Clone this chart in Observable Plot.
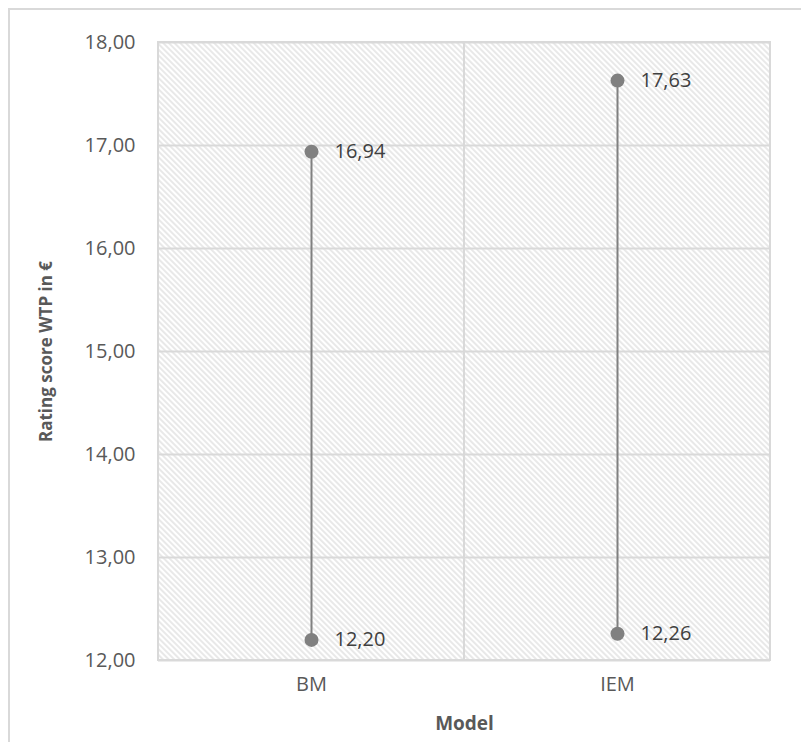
<!DOCTYPE html>
<html>
<head>
<meta charset="utf-8">
<script src="https://cdn.jsdelivr.net/npm/d3@7"></script>
<script src="https://cdn.jsdelivr.net/npm/@observablehq/plot@0.6"></script>
<style>
  html, body { margin: 0; padding: 0; background: #fff; }
  #wrap { position: relative; width: 801px; height: 742px; }
  #border { position: absolute; left: 8px; top: 8px; right: -10px; bottom: -10px;
            border-left: 2px solid #d9d9d9; border-top: 2px solid #d9d9d9; pointer-events: none; }
</style>
</head>
<body>
<div id="wrap"><div id="border"></div></div>
<script>
const models = ["BM", "IEM"];
const lowValues = [12.20, 12.26];
const highValues = [16.94, 17.63];
const yDomain = [12, 18];
const yTicks = [12, 13, 14, 15, 16, 17, 18];
const xLabel = "Model";
const yLabel = "Rating score WTP in €";

const ranges = models.map((m, i) => ({model: m, low: lowValues[i], high: highValues[i]}));
const points = ranges.flatMap(d => [{model: d.model, value: d.low}, {model: d.model, value: d.high}]);
const fmt = v => d3.format(".2f")(v).replace(".", ",");

const chart = Plot.plot({
  width: 801,
  height: 742,
  marginLeft: 158,
  marginRight: 31,
  marginTop: 42,
  marginBottom: 82,
  style: {fontFamily: "'Open Sans', sans-serif", background: "transparent"},
  x: {domain: models, padding: 0},
  y: {domain: yDomain},
  marks: [
    Plot.barY(models, {x: d => d, y1: () => yDomain[0], y2: () => yDomain[1], fill: "url(#hatch)"}),
    Plot.gridY(yTicks, {stroke: "#d9d9d9", strokeOpacity: 1, strokeWidth: 2}),
    Plot.barY(models, {x: d => d, y1: () => yDomain[0], y2: () => yDomain[1], fill: "none", stroke: "#d9d9d9", strokeWidth: 2}),
    Plot.axisY(yTicks, {tickSize: 0, tickPadding: 23, tickFormat: fmt, fontSize: 20, color: "#595959",
      label: yLabel, labelAnchor: "center", labelOffset: 119, labelArrow: "none"}),
    Plot.axisX({tickSize: 0, tickPadding: 16, fontSize: 20, color: "#595959",
      label: xLabel, labelAnchor: "center", labelOffset: 69, labelArrow: "none"}),
    Plot.ruleX(ranges, {x: "model", y1: "low", y2: "high", stroke: "#808080", strokeWidth: 2}),
    Plot.dot(points, {x: "model", y: "value", r: 7, fill: "#808080"}),
    Plot.text(points, {x: "model", y: "value", text: d => fmt(d.value), dx: 23, textAnchor: "start", fontSize: 20, fill: "#404040"})
  ]
});

const svg = d3.select(chart.tagName.toLowerCase() === "svg" ? chart : chart.querySelector("svg"));
const defs = svg.insert("defs", ":first-child");
const pat = defs.append("pattern").attr("id", "hatch").attr("patternUnits", "userSpaceOnUse")
  .attr("width", 4).attr("height", 4).attr("patternTransform", "rotate(-45)");
pat.append("rect").attr("width", 4).attr("height", 4).attr("fill", "#ffffff");
pat.append("line").attr("x1", 1).attr("y1", 0).attr("x2", 1).attr("y2", 4)
  .attr("stroke", "#dadada").attr("stroke-width", 1.2);

// axis label styling (bold)
svg.selectAll("g[aria-label='y-axis label'] text")
  .attr("font-weight", "bold").attr("font-size", 17).attr("fill", "#595959");
svg.selectAll("g[aria-label='x-axis label'] text")
  .attr("font-weight", "bold").attr("font-size", 19).attr("fill", "#595959");

document.getElementById("wrap").appendChild(chart);
</script>
</body>
</html>
